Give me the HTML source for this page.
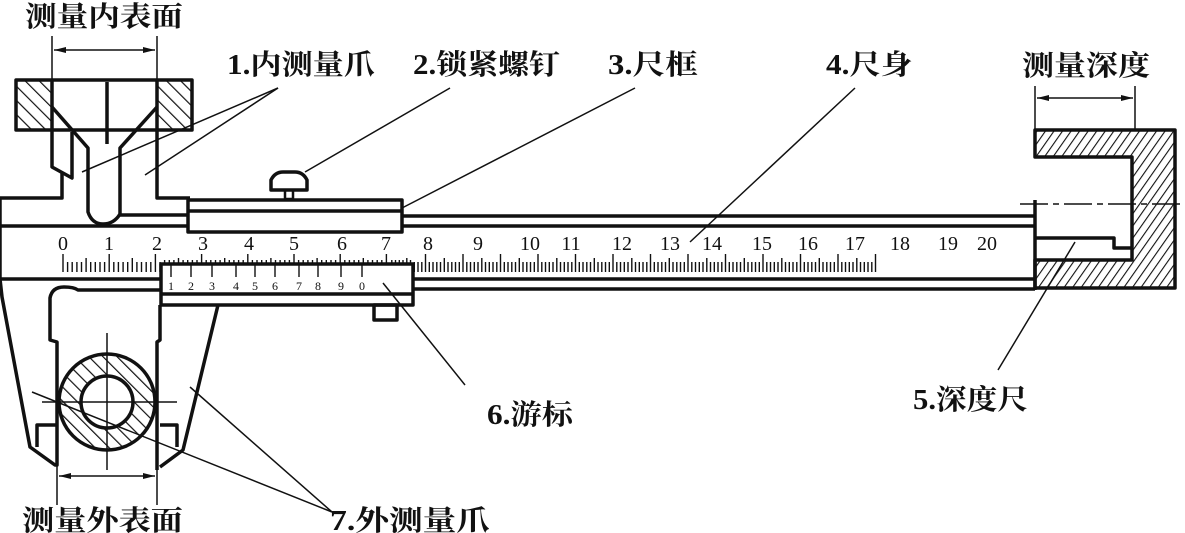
<!DOCTYPE html>
<html><head><meta charset="utf-8"><style>
html,body{margin:0;padding:0;background:#fff}
svg{display:block}
.lb{font-family:"Liberation Serif","Noto Serif CJK SC","Noto Sans CJK SC",serif;font-weight:bold;font-size:28px;fill:#111}
.n{font-family:"Liberation Serif",serif;font-size:20px;fill:#111;text-anchor:middle}
.v{font-family:"Liberation Serif",serif;font-size:12px;fill:#111;text-anchor:middle}
</style></head><body>
<svg width="1185" height="533" viewBox="0 0 1185 533" xmlns="http://www.w3.org/2000/svg">
<defs>
<pattern id="hl" width="10" height="10" patternUnits="userSpaceOnUse" patternTransform="rotate(-45)"><line x1="0" y1="0" x2="0" y2="10" stroke="#111" stroke-width="2.4"/></pattern>
<pattern id="hr" width="7" height="7" patternUnits="userSpaceOnUse" patternTransform="rotate(35)"><line x1="0" y1="0" x2="0" y2="7" stroke="#111" stroke-width="2.2"/></pattern>
<pattern id="hc" width="10" height="10" patternUnits="userSpaceOnUse" patternTransform="rotate(-45)"><line x1="0" y1="0" x2="0" y2="10" stroke="#111" stroke-width="2.4"/></pattern>
</defs>
<g fill="none" stroke="#111" stroke-width="3.5" stroke-linejoin="round">
<rect x="16" y="80" width="36" height="50" fill="url(#hl)"/>
<rect x="157" y="80" width="35" height="50" fill="url(#hl)"/>
<line x1="52" y1="80" x2="157" y2="80"/>
<line x1="52" y1="130" x2="157" y2="130"/>
<line x1="107" y1="82" x2="107" y2="144"/>
<polyline points="52,130 52,167 72,178 72,132"/>
<path d="M52,107 L88,148 L88,212 Q92,224 103,224 Q114,224 120,214 L120,148 L157,107"/>
<polyline points="62,172 62,198 0,198 0,279"/>
<polyline points="157,130 157,198 190,198"/>
<line x1="120" y1="215" x2="190" y2="215"/>
<line x1="402" y1="216" x2="1035" y2="216"/>
<line x1="0" y1="226" x2="188" y2="226"/>
<line x1="402" y1="226" x2="1035" y2="226"/>
<line x1="0" y1="279" x2="160" y2="279"/>
<line x1="413" y1="279" x2="1035" y2="279"/>
<line x1="413" y1="289" x2="1035" y2="289"/>
<line x1="1035" y1="200" x2="1035" y2="290"/>
<rect x="188" y="200" width="214" height="32" fill="#fff"/>
<line x1="188" y1="211" x2="402" y2="211"/>
<path d="M271,190 L271,180 Q275,172 283,172 L295,172 Q303,172 307,180 L307,190 Z" fill="#fff"/>
<rect x="285" y="190" width="8" height="9" stroke-width="2.5"/>
<rect x="161" y="264" width="252" height="41" fill="#fff"/>
<line x1="161" y1="294" x2="413" y2="294"/>
<rect x="374" y="305" width="23" height="15"/>
<path d="M0,279 L2,297 L30,447 L55,465 L57,465 L57,342 L50,340 L50,298 Q52,287 64,287 Q74,287 78,290 L160,290"/>
<polyline points="37,447 37,425 57,425"/>
<path d="M160,305 L160,340 L157,342 L157,470"/>
<path d="M218,305 L183,450 L160,467"/>
<polyline points="160,425 177,425 177,447"/>
<circle cx="107" cy="402" r="48" fill="url(#hc)"/>
<circle cx="107" cy="402" r="26" fill="#fff"/>
<path d="M1035,130 L1175,130 L1175,288 L1035,288 L1035,260 L1132,260 L1132,157 L1035,157 Z" fill="url(#hr)"/>
<polyline points="1035,238 1114,238 1114,248 1132,248" fill="none"/>
</g>
<g stroke="#111" stroke-width="1.5" fill="none">
<line x1="42" y1="402" x2="177" y2="402"/>
<line x1="107" y1="333" x2="107" y2="470"/>
<line x1="1020" y1="204" x2="1185" y2="204" stroke-dasharray="28,5,6,5"/>
<line x1="52" y1="36" x2="52" y2="80"/><line x1="157" y1="36" x2="157" y2="80"/>
<line x1="54" y1="50" x2="155" y2="50"/>
<line x1="57" y1="447" x2="57" y2="505"/><line x1="157" y1="447" x2="157" y2="505"/>
<line x1="59" y1="476" x2="155" y2="476"/>
<line x1="1035" y1="86" x2="1035" y2="130"/><line x1="1135" y1="86" x2="1135" y2="130"/>
<line x1="1037" y1="98" x2="1133" y2="98"/>
<line x1="278" y1="88" x2="82" y2="172"/>
<line x1="278" y1="88" x2="145" y2="175"/>
<line x1="450" y1="88" x2="305" y2="172"/>
<line x1="635" y1="88" x2="402" y2="208"/>
<line x1="855" y1="88" x2="690" y2="242"/>
<line x1="465" y1="385" x2="383" y2="283"/>
<line x1="998" y1="370" x2="1075" y2="242"/>
<line x1="332" y1="512" x2="32" y2="392"/>
<line x1="332" y1="512" x2="190" y2="387"/>
</g>
<g fill="#111">
<path d="M54,50 l12,-3 v6z M155,50 l-12,-3 v6z M59,476 l12,-3 v6z M155,476 l-12,-3 v6z M1037,98 l12,-3 v6z M1133,98 l-12,-3 v6z"/>
</g>
<g stroke="#111" stroke-width="1.4" id="ticks"></g>
<g id="vern" stroke="#111" stroke-width="1.4"></g>
<text class="lb" x="25" y="26" textLength="158" lengthAdjust="spacingAndGlyphs">测量内表面</text>
<text class="lb" x="227" y="74" textLength="148" lengthAdjust="spacingAndGlyphs">1.内测量爪</text>
<text class="lb" x="413" y="74" textLength="147" lengthAdjust="spacingAndGlyphs">2.锁紧螺钉</text>
<text class="lb" x="608" y="74" textLength="90" lengthAdjust="spacingAndGlyphs">3.尺框</text>
<text class="lb" x="826" y="74" textLength="86" lengthAdjust="spacingAndGlyphs">4.尺身</text>
<text class="lb" x="1022" y="75" textLength="128" lengthAdjust="spacingAndGlyphs">测量深度</text>
<text class="lb" x="487" y="424" textLength="86" lengthAdjust="spacingAndGlyphs">6.游标</text>
<text class="lb" x="913" y="409" textLength="115" lengthAdjust="spacingAndGlyphs">5.深度尺</text>
<text class="lb" x="22" y="530" textLength="161" lengthAdjust="spacingAndGlyphs">测量外表面</text>
<text class="lb" x="330" y="530" textLength="160" lengthAdjust="spacingAndGlyphs">7.外测量爪</text>
<text class="n" x="63" y="250">0</text><text class="n" x="109" y="250">1</text><text class="n" x="157" y="250">2</text>
<text class="n" x="203" y="250">3</text><text class="n" x="249" y="250">4</text><text class="n" x="294" y="250">5</text>
<text class="n" x="342" y="250">6</text><text class="n" x="386" y="250">7</text><text class="n" x="428" y="250">8</text>
<text class="n" x="478" y="250">9</text><text class="n" x="530" y="250">10</text><text class="n" x="571" y="250">11</text>
<text class="n" x="622" y="250">12</text><text class="n" x="670" y="250">13</text><text class="n" x="712" y="250">14</text>
<text class="n" x="762" y="250">15</text><text class="n" x="808" y="250">16</text><text class="n" x="855" y="250">17</text>
<text class="n" x="900" y="250">18</text><text class="n" x="948" y="250">19</text><text class="n" x="987" y="250">20</text>
<text class="v" x="171" y="290">1</text><text class="v" x="191" y="290">2</text><text class="v" x="212" y="290">3</text>
<text class="v" x="236" y="290">4</text><text class="v" x="255" y="290">5</text><text class="v" x="275" y="290">6</text>
<text class="v" x="299" y="290">7</text><text class="v" x="318" y="290">8</text><text class="v" x="341" y="290">9</text>
<text class="v" x="362" y="290">0</text>
</svg>
<script>
(function(){
var g=document.getElementById("ticks"),s="";
function pos(mm){var c=mm/10;if(c<=7)return 63+46.2*c;return 388+37.5*(c-7);}
for(var mm=0;mm<=200;mm++){var x=pos(mm);var top=mm%10==0?254:(mm%5==0?258:262);var bot=272;
 if(x>161&&x<413){bot=263;if(top>=262)top=260;}
 s+='<line x1="'+x.toFixed(1)+'" y1="'+top+'" x2="'+x.toFixed(1)+'" y2="'+bot+'"/>';}
g.innerHTML=s;
var v=document.getElementById("vern"),t="";
var xs=[171,191,212,236,255,275,299,318,341,362];
for(var i=0;i<xs.length;i++){t+='<line x1="'+xs[i]+'" y1="264" x2="'+xs[i]+'" y2="277"/>';}
v.innerHTML=t;
})();
</script>
</body></html>
